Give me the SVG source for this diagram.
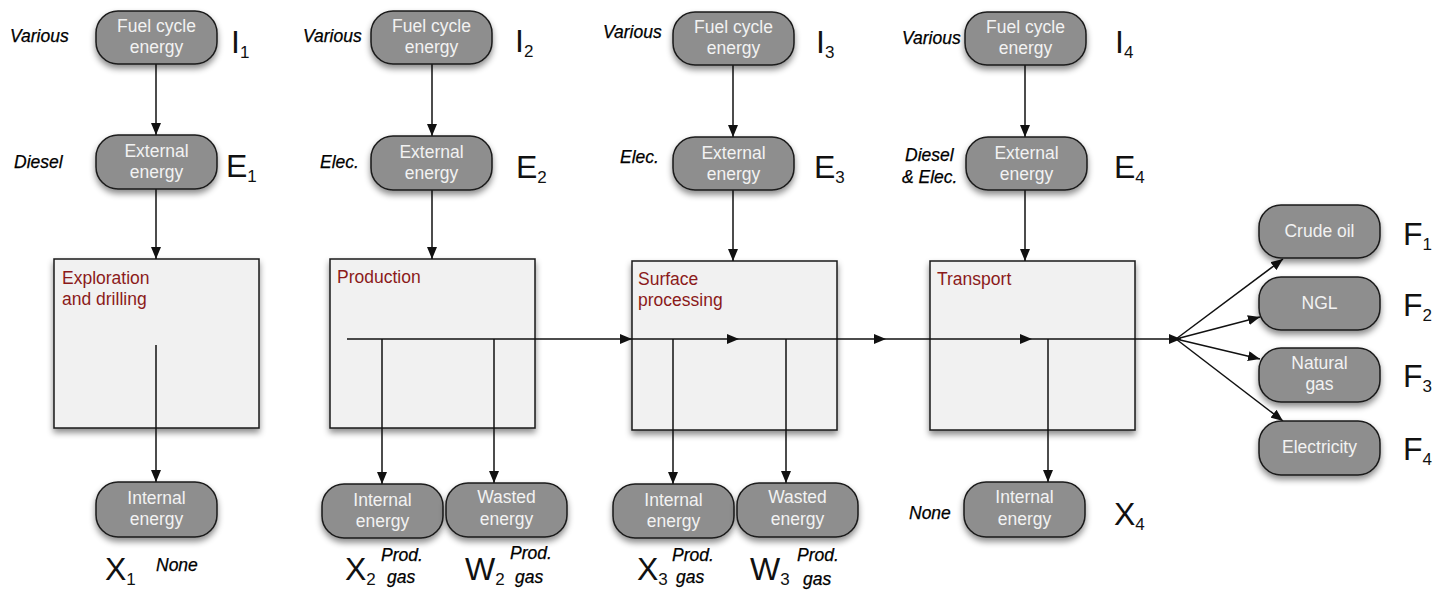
<svg xmlns="http://www.w3.org/2000/svg" width="1445" height="590" viewBox="0 0 1445 590">
<style>
.node{fill:#8e8e8e;stroke:#1a1a1a;stroke-width:1.5;filter:url(#sh)}
.box{fill:#f1f1f1;stroke:#1a1a1a;stroke-width:1.5;filter:url(#sh)}
.nt{font-family:"Liberation Sans",Arial,sans-serif;font-size:17.5px;fill:#f2f2f2;text-anchor:middle}
.bt{font-family:"Liberation Sans",Arial,sans-serif;font-size:17.5px;fill:#8b1a1a}
.it{font-family:"Liberation Sans",Arial,sans-serif;font-size:17.5px;font-style:italic;fill:#000;stroke:#000;stroke-width:0.25}
.sym{font-family:"Liberation Sans",Arial,sans-serif;font-size:32px;fill:#111}
.sub{font-size:17px}
.c line,.c path{stroke:#111;stroke-width:1.5;fill:none}
.a{marker-end:url(#ah)}
</style>
<defs>
<filter id="sh" x="-20%" y="-20%" width="140%" height="150%">
<feDropShadow dx="0" dy="4" stdDeviation="3" flood-color="#000" flood-opacity="0.45"/>
</filter>
<marker id="ah" viewBox="0 0 12 10" refX="12" refY="5" markerWidth="12" markerHeight="10" markerUnits="userSpaceOnUse" orient="auto">
<path d="M0,0 L12,5 L0,10 Z" fill="#111"/>
</marker>
</defs>

<!-- Process boxes -->
<g id="box1"><rect class="box" x="54" y="259" width="205" height="169"/><text class="bt" x="62" y="284">Exploration</text><text class="bt" x="62" y="305">and drilling</text></g>
<g id="box2"><rect class="box" x="330" y="259" width="205" height="169"/><text class="bt" x="337" y="283">Production</text></g>
<g id="box3"><rect class="box" x="632" y="261" width="205" height="169"/><text class="bt" x="638" y="285">Surface</text><text class="bt" x="638" y="306">processing</text></g>
<g id="box4"><rect class="box" x="930" y="261" width="205" height="169"/><text class="bt" x="937" y="285">Transport</text></g>

<!-- Connectors -->
<g id="connectors" class="c">
<line class="a" x1="156" y1="64" x2="156" y2="135"/>
<line class="a" x1="156" y1="189" x2="156" y2="259"/>
<line class="a" x1="432" y1="64" x2="432" y2="136"/>
<line class="a" x1="432" y1="190" x2="432" y2="259"/>
<line class="a" x1="733" y1="65" x2="733" y2="137"/>
<line class="a" x1="733" y1="190" x2="733" y2="261"/>
<line class="a" x1="1025" y1="65" x2="1025" y2="137"/>
<line class="a" x1="1025" y1="190" x2="1025" y2="261"/>
<line class="a" x1="156" y1="345" x2="156" y2="482"/>
<line class="a" x1="347" y1="339" x2="632" y2="339"/>
<line class="a" x1="632" y1="339" x2="739" y2="339"/>
<line class="a" x1="739" y1="339" x2="886" y2="339"/>
<line class="a" x1="886" y1="339" x2="1032" y2="339"/>
<line class="a" x1="1032" y1="339" x2="1181" y2="339"/>
<line class="a" x1="382" y1="339" x2="382" y2="484"/>
<line class="a" x1="494" y1="339" x2="494" y2="483"/>
<line class="a" x1="673" y1="339" x2="673" y2="484"/>
<line class="a" x1="786" y1="339" x2="786" y2="483"/>
<line class="a" x1="1048" y1="339" x2="1048" y2="482"/>
<line class="a" x1="1176" y1="339" x2="1283" y2="259"/>
<line class="a" x1="1176" y1="339" x2="1260" y2="317"/>
<line class="a" x1="1176" y1="339" x2="1260" y2="359"/>
<line class="a" x1="1176" y1="339" x2="1283" y2="421"/>
</g>

<!-- Column 1 -->
<g id="fuel1"><rect class="node" x="96" y="11" width="121" height="53" rx="22"/><text class="nt" x="156.5" y="32">Fuel cycle</text><text class="nt" x="156.5" y="53">energy</text></g>
<g id="ext1"><rect class="node" x="96" y="135" width="121" height="54" rx="22"/><text class="nt" x="156.5" y="156.5">External</text><text class="nt" x="156.5" y="177.5">energy</text></g>
<g id="int1"><rect class="node" x="96" y="482" width="121" height="55" rx="22"/><text class="nt" x="156.5" y="503.5">Internal</text><text class="nt" x="156.5" y="524.5">energy</text></g>

<!-- Column 2 -->
<g id="fuel2"><rect class="node" x="371" y="11" width="121" height="53" rx="22"/><text class="nt" x="431.5" y="32">Fuel cycle</text><text class="nt" x="431.5" y="53">energy</text></g>
<g id="ext2"><rect class="node" x="371" y="136" width="121" height="54" rx="22"/><text class="nt" x="431.5" y="157.5">External</text><text class="nt" x="431.5" y="178.5">energy</text></g>
<g id="int2"><rect class="node" x="322" y="484" width="121" height="54" rx="22"/><text class="nt" x="382.5" y="505.5">Internal</text><text class="nt" x="382.5" y="526.5">energy</text></g>
<g id="waste2"><rect class="node" x="446" y="483" width="121" height="54" rx="22"/><text class="nt" x="506.5" y="502.5">Wasted</text><text class="nt" x="506.5" y="524.5">energy</text></g>

<!-- Column 3 -->
<g id="fuel3"><rect class="node" x="673" y="12" width="121" height="53" rx="22"/><text class="nt" x="733.5" y="33">Fuel cycle</text><text class="nt" x="733.5" y="54">energy</text></g>
<g id="ext3"><rect class="node" x="673" y="137" width="121" height="53" rx="22"/><text class="nt" x="733.5" y="158.5">External</text><text class="nt" x="733.5" y="179.5">energy</text></g>
<g id="int3"><rect class="node" x="613" y="484" width="121" height="54" rx="22"/><text class="nt" x="673.5" y="505.5">Internal</text><text class="nt" x="673.5" y="526.5">energy</text></g>
<g id="waste3"><rect class="node" x="737" y="483" width="121" height="54" rx="22"/><text class="nt" x="797.5" y="502.5">Wasted</text><text class="nt" x="797.5" y="524.5">energy</text></g>

<!-- Column 4 -->
<g id="fuel4"><rect class="node" x="965" y="12" width="121" height="53" rx="22"/><text class="nt" x="1025.5" y="33">Fuel cycle</text><text class="nt" x="1025.5" y="54">energy</text></g>
<g id="ext4"><rect class="node" x="966" y="137" width="121" height="53" rx="22"/><text class="nt" x="1026.5" y="158.5">External</text><text class="nt" x="1026.5" y="179.5">energy</text></g>
<g id="int4"><rect class="node" x="964" y="482" width="121" height="55" rx="22"/><text class="nt" x="1024.5" y="502.5">Internal</text><text class="nt" x="1024.5" y="524.5">energy</text></g>

<!-- Final products -->
<g id="crude"><rect class="node" x="1259" y="205" width="121" height="53" rx="22"/><text class="nt" x="1319.5" y="237">Crude oil</text></g>
<g id="ngl"><rect class="node" x="1259" y="277" width="121" height="53" rx="22"/><text class="nt" x="1319.5" y="309">NGL</text></g>
<g id="natgas"><rect class="node" x="1259" y="348" width="121" height="54" rx="22"/><text class="nt" x="1319.5" y="369">Natural</text><text class="nt" x="1319.5" y="390">gas</text></g>
<g id="elec"><rect class="node" x="1259" y="421" width="121" height="54" rx="22"/><text class="nt" x="1319.5" y="453">Electricity</text></g>

<!-- Italic annotations -->
<g id="annotations">
<text class="it" x="10" y="42">Various</text>
<text class="it" x="14" y="168">Diesel</text>
<text class="it" x="156" y="571">None</text>
<text class="it" x="303" y="42">Various</text>
<text class="it" x="320" y="168">Elec.</text>
<text class="it" x="381" y="561">Prod.</text>
<text class="it" x="387" y="583">gas</text>
<text class="it" x="510" y="559">Prod.</text>
<text class="it" x="515" y="583">gas</text>
<text class="it" x="603" y="38">Various</text>
<text class="it" x="620" y="163">Elec.</text>
<text class="it" x="672" y="561">Prod.</text>
<text class="it" x="676" y="583">gas</text>
<text class="it" x="797" y="561">Prod.</text>
<text class="it" x="803" y="585">gas</text>
<text class="it" x="902" y="44">Various</text>
<text class="it" x="905" y="161">Diesel</text>
<text class="it" x="902" y="183">&amp; Elec.</text>
<text class="it" x="909" y="519">None</text>
</g>

<!-- Symbols -->
<g id="symbols" class="sym">
<text class="sym" x="231" y="53">I<tspan class="sub" dy="5">1</tspan></text>
<text class="sym" x="226" y="177">E<tspan class="sub" dy="5">1</tspan></text>
<text class="sym" x="105" y="580">X<tspan class="sub" dy="5">1</tspan></text>
<text class="sym" x="515" y="52">I<tspan class="sub" dy="5">2</tspan></text>
<text class="sym" x="516" y="178">E<tspan class="sub" dy="5">2</tspan></text>
<text class="sym" x="345" y="580">X<tspan class="sub" dy="5">2</tspan></text>
<text class="sym" x="465" y="580">W<tspan class="sub" dy="5">2</tspan></text>
<text class="sym" x="816" y="53">I<tspan class="sub" dy="5">3</tspan></text>
<text class="sym" x="814" y="178">E<tspan class="sub" dy="5">3</tspan></text>
<text class="sym" x="637" y="580">X<tspan class="sub" dy="5">3</tspan></text>
<text class="sym" x="750" y="580">W<tspan class="sub" dy="5">3</tspan></text>
<text class="sym" x="1115" y="53">I<tspan class="sub" dy="5">4</tspan></text>
<text class="sym" x="1114" y="178">E<tspan class="sub" dy="5">4</tspan></text>
<text class="sym" x="1114" y="525">X<tspan class="sub" dy="5">4</tspan></text>
<text class="sym" x="1403" y="245">F<tspan class="sub" dy="5">1</tspan></text>
<text class="sym" x="1403" y="316">F<tspan class="sub" dy="5">2</tspan></text>
<text class="sym" x="1403" y="387">F<tspan class="sub" dy="5">3</tspan></text>
<text class="sym" x="1403" y="460">F<tspan class="sub" dy="5">4</tspan></text>
</g>
</svg>
